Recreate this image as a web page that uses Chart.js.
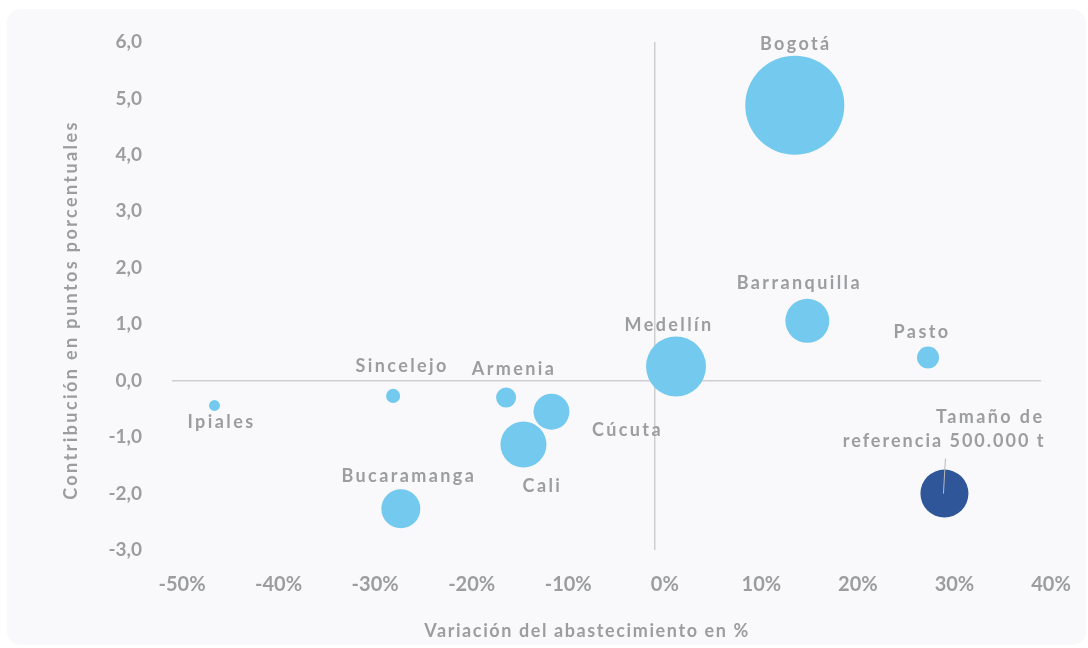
<!DOCTYPE html>
<html>
<head>
<meta charset="utf-8">
<script src="https://cdn.jsdelivr.net/npm/chart.js@4/dist/chart.umd.min.js"></script>
<style>
  html, body { margin: 0; padding: 0; background: #ffffff; }
  #card { position: absolute; left: 7px; top: 9px; width: 1079px; height: 636px; background: #f9f9fb; border-radius: 14px; }
  #wrap { position: absolute; left: 0; top: 0; width: 1088px; height: 648px; }
</style>
</head>
<body>
<div id="card"></div>
<div id="wrap"><canvas id="chart" width="1088" height="648"></canvas></div>
<script>
// data
const cities = ['Bogotá', 'Barranquilla', 'Pasto', 'Medellín', 'Sincelejo', 'Armenia', 'Ipiales', 'Cúcuta', 'Cali', 'Bucaramanga'];
const variation = [14.5, 15.8, 28.3, 2.2, -27.1, -15.4, -45.6, -10.7, -13.6, -26.3];      // % change in supply
const contribution = [4.88, 1.06, 0.41, 0.25, -0.27, -0.30, -0.44, -0.55, -1.13, -2.27];  // percentage points
const volume = [2130, 420, 105, 780, 43, 87, 26, 280, 460, 330];                          // thousand tonnes

const refLabel = ['Tamaño de', 'referencia 500.000 t'];
const refPoint = { x: 30.0, y: -2.0, v: 500 };

const xTicks = [-50, -40, -30, -20, -10, 0, 10, 20, 30, 40];
const yTicks = [-3, -2, -1, 0, 1, 2, 3, 4, 5, 6];

const xTitle = 'Variación del abastecimiento en %';
const yTitle = 'Contribución en puntos porcentuales';

const REF_R = 24;
function radius(v) { return REF_R * Math.sqrt(v / refPoint.v); }

// where each city label sits relative to its bubble (px)
const labelOffsets = [
  [1, -61], [-8, -38], [-6, -25], [-7, -41], [9, -30], [8, -28], [7, 17], [76, 18], [19, 42], [8, -33]
];

const grey = '#9c9d9f';
const labelFont = 'bold 18px Lato, "Open Sans", sans-serif';

function spacing(ctx, px) {
  if (ctx.letterSpacing !== undefined) ctx.letterSpacing = px + 'px';
}

const labelPlugin = {
  id: 'labels',
  afterDatasetsDraw(chart) {
    const ctx = chart.ctx;
    const xs = chart.scales.x, ys = chart.scales.y;
    ctx.save();
    ctx.fillStyle = grey;
    ctx.font = labelFont;
    ctx.textAlign = 'center';
    ctx.textBaseline = 'middle';
    spacing(ctx, 2.4);
    cities.forEach((c, i) => {
      const px = xs.getPixelForValue(variation[i]);
      const py = ys.getPixelForValue(contribution[i]);
      ctx.fillText(c, px + labelOffsets[i][0], py + labelOffsets[i][1]);
    });
    // reference bubble label and leader
    const rx = xs.getPixelForValue(refPoint.x);
    const ry = ys.getPixelForValue(refPoint.y);
    ctx.textAlign = 'right';
    ctx.fillText(refLabel[0], rx + 100, ry - 76);
    spacing(ctx, 2);
    ctx.fillText(refLabel[1], rx + 101, ry - 52);
    ctx.strokeStyle = '#b8b8b8';
    ctx.lineWidth = 1;
    ctx.beginPath();
    ctx.moveTo(rx + 1, ry - 35);
    ctx.lineTo(rx - 1, ry);
    ctx.stroke();

    // axis titles
    ctx.textAlign = 'center';
    ctx.font = 'bold 18px Lato, "Open Sans", sans-serif';
    spacing(ctx, 1.6);
    ctx.fillText(xTitle, 587, 631);
    ctx.translate(71, 310);
    ctx.rotate(-Math.PI / 2);
    spacing(ctx, 2.4);
    ctx.fillText(yTitle, 0, 0);
    ctx.restore();
  }
};

const cityPoints = cities.map((c, i) => ({ x: variation[i], y: contribution[i], r: radius(volume[i]) }));

new Chart(document.getElementById('chart'), {
  type: 'bubble',
  data: {
    datasets: [
      {
        label: 'Ciudades',
        data: cityPoints,
        backgroundColor: '#73c9ee',
        borderColor: '#73c9ee',
        borderWidth: 0
      },
      {
        label: 'Referencia',
        data: [{ x: refPoint.x, y: refPoint.y, r: radius(refPoint.v) }],
        backgroundColor: '#30569a',
        borderColor: '#30569a',
        borderWidth: 0
      }
    ]
  },
  options: {
    responsive: false,
    animation: false,
    devicePixelRatio: 1,
    clip: false,
    layout: { autoPadding: false, padding: { top: 42, right: 47, left: 0, bottom: 0 } },
    plugins: { legend: { display: false }, tooltip: { enabled: false } },
    scales: {
      x: {
        type: 'linear',
        min: -50, max: 40,
        afterBuildTicks: s => { s.ticks = xTicks.map(v => ({ value: v })); },
        afterFit: s => { s.height = 98; },
        border: { display: false },
        grid: {
          drawTicks: false,
          color: c => c.tick && c.tick.value === 0 ? '#cfcfd1' : 'rgba(0,0,0,0)',
          lineWidth: 1.5
        },
        ticks: {
          padding: 23,
          labelOffset: 10,
          color: grey,
          font: { family: 'Lato, "Open Sans", sans-serif', size: 20, weight: 'bold' },
          callback: v => v + '%'
        },
        title: { display: false }
      },
      y: {
        type: 'linear',
        min: -3, max: 6,
        afterBuildTicks: s => { s.ticks = yTicks.map(v => ({ value: v })); },
        afterFit: s => { s.width = 172; },
        border: { display: false },
        grid: {
          drawTicks: false,
          color: c => c.tick && c.tick.value === 0 ? '#cfcfd1' : 'rgba(0,0,0,0)',
          lineWidth: 1.5
        },
        ticks: {
          padding: 30,
          color: grey,
          font: { family: 'Lato, "Open Sans", sans-serif', size: 19, weight: 'bold' },
          callback: v => v.toFixed(1).replace('.', ',')
        },
        title: { display: false }
      }
    }
  },
  plugins: [labelPlugin]
});
</script>
</body>
</html>
